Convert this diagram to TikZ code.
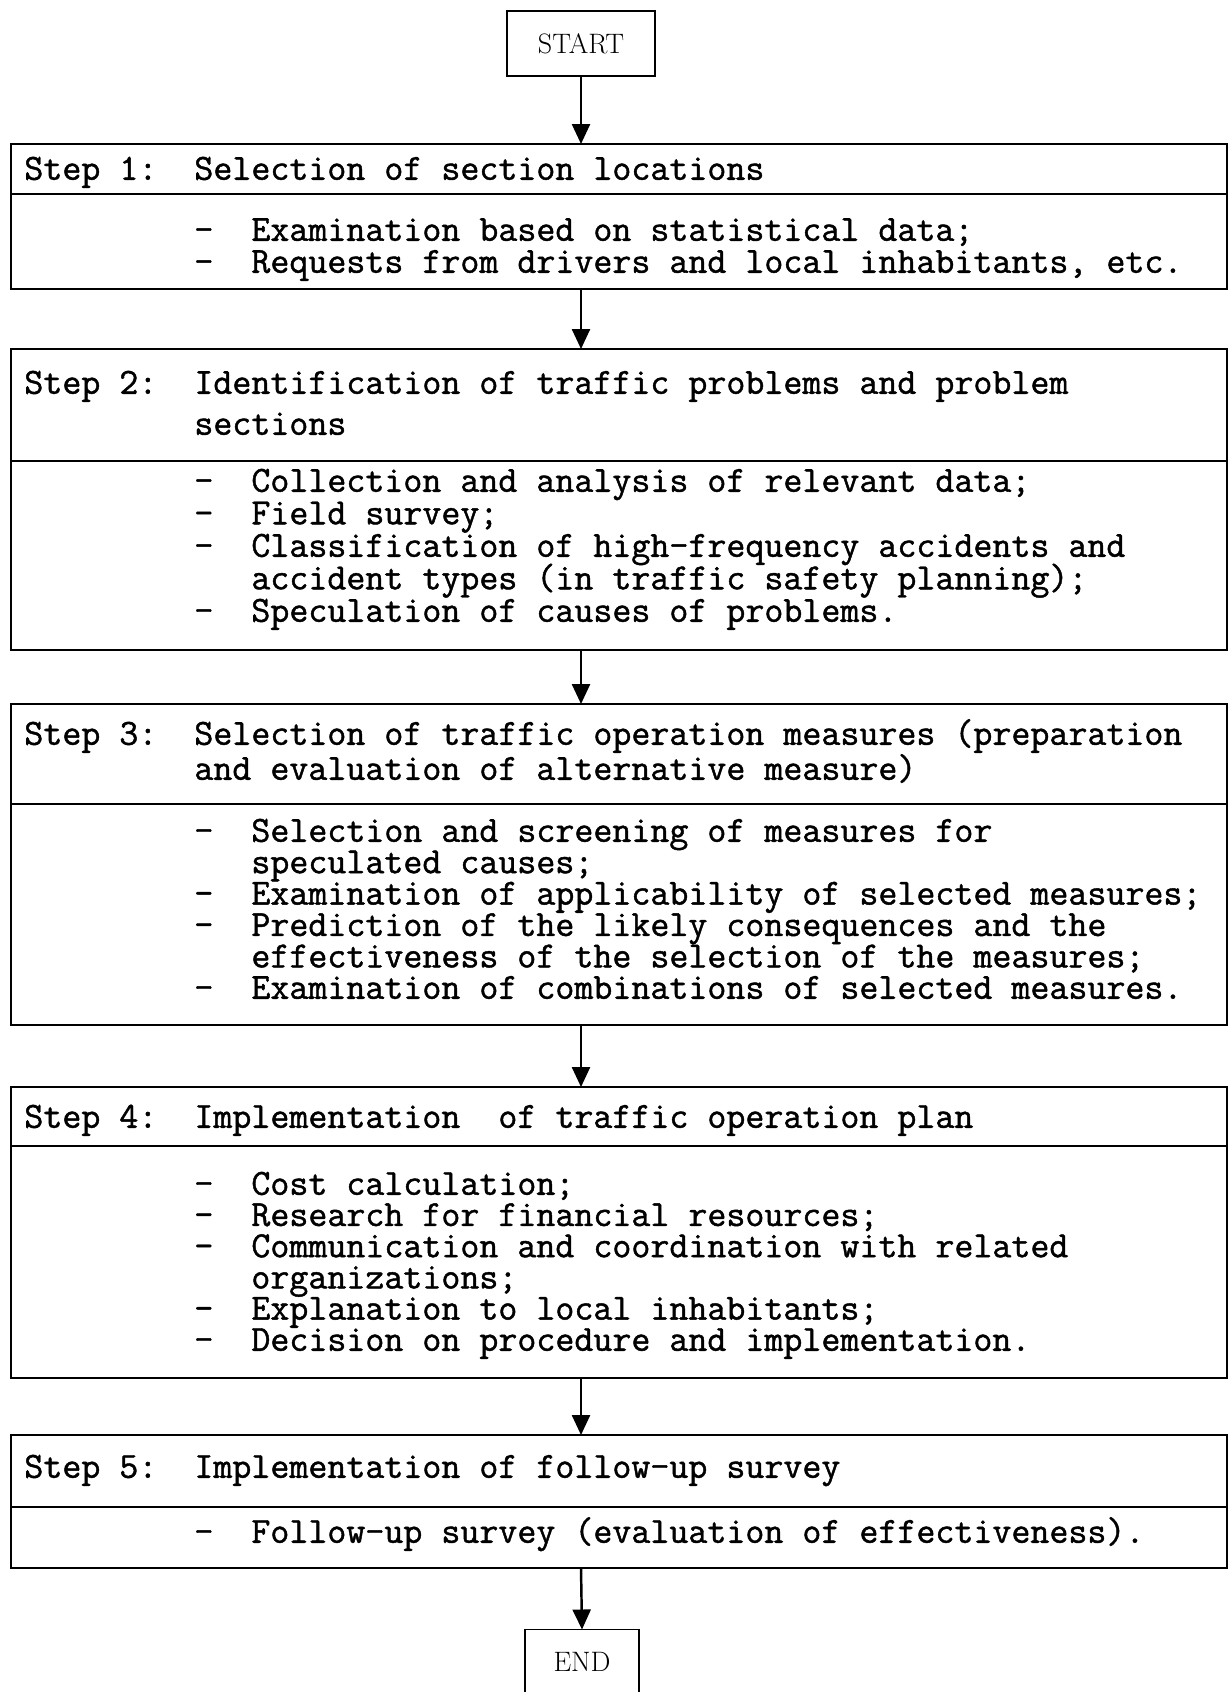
\documentclass[tikz,border=0pt]{standalone}
\usepackage{fontspec}
\usepackage{tikz}
\usetikzlibrary{arrows.meta}
\newfontfamily\typefont{Latin Modern Mono}[FakeBold=1.2]
\newcommand{\bul}{\makebox[3\fontcharwd\font`\-][l]{-}}
\newcommand{\ind}{\hspace*{3\fontcharwd\font`\-}}
\tikzset{
    stepbox/.style={draw, line width=1.1pt, rectangle, minimum width=24.32cm, outer sep=0pt, inner sep=0pt},
    endbox/.style={draw, line width=1.1pt, rectangle, outer sep=0pt, font=\fontsize{16pt}{18pt}\selectfont},
    line/.style={anchor=mid west, inner sep=0pt, font={\typefont\fontsize{21pt}{22pt}\selectfont}},
    arrow/.style={line width=1.4pt, -{Triangle[length=0.4cm, width=0.36cm]}}
}

\begin{document}
\begin{tikzpicture}[x=0.02cm, y=-0.02cm]
\useasboundingbox (0,0) rectangle (1229,1692);
\fill[white] (0,0) rectangle (1229,1692);
\coordinate (ax) at (581,0);
% start and end
\node[endbox, minimum width=2.96cm, minimum height=1.3cm] (start) at (581,43.5) {START};
\node[endbox, minimum width=2.28cm, minimum height=1.3cm] (end) at (582,1662) {END};
% step boxes
\node[stepbox, minimum height=2.9cm] (s1) at (619,216.5) {};
\node[stepbox, minimum height=6.02cm] (s2) at (619,499.5) {};
\node[stepbox, minimum height=6.42cm] (s3) at (619,864.5) {};
\node[stepbox, minimum height=5.82cm] (s4) at (619,1232.5) {};
\node[stepbox, minimum height=2.66cm] (s5) at (619,1501.5) {};
\draw[line width=1.1pt] (s1.west |- 0,194) -- (s1.east |- 0,194);
\draw[line width=1.1pt] (s2.west |- 0,461) -- (s2.east |- 0,461);
\draw[line width=1.1pt] (s3.west |- 0,804) -- (s3.east |- 0,804);
\draw[line width=1.1pt] (s4.west |- 0,1146) -- (s4.east |- 0,1146);
\draw[line width=1.1pt] (s5.west |- 0,1507) -- (s5.east |- 0,1507);
% arrows
\draw[arrow] (start.south) -- (ax |- s1.north);
\draw[arrow] (ax |- s1.south) -- (ax |- s2.north);
\draw[arrow] (ax |- s2.south) -- (ax |- s3.north);
\draw[arrow] (ax |- s3.south) -- (ax |- s4.north);
\draw[arrow] (ax |- s4.south) -- (ax |- s5.north);
\draw[arrow] (ax |- s5.south) -- (end.north);
% step labels
\foreach \n/\y in {1/176, 2/390, 3/741, 4/1124, 5/1474}
  \node[line] (lab\n) at (24,\y) {Step \n:};
% headings
\node[line] (h1) at (194,176) {Selection of section locations};
\node[line] (h2a) at (194,390) {Identification of traffic problems and problem};
\node[line] (h2b) at (194,431) {sections};
\node[line] (h3a) at (194,741) {Selection of traffic operation measures (preparation};
\node[line] (h3b) at (194,776) {and evaluation of alternative measure)};
\node[line] (h4) at (194,1124) {Implementation\ \ of traffic operation plan};
\node[line] (h5) at (194,1474) {Implementation of follow-up survey};
% items
\foreach \t [count=\i from 0] in {
    {\bul Examination based on statistical data;},
    {\bul Requests from drivers and local inhabitants, etc.}}
  \node[line] (b1-\i) at (194,{237+32*\i}) {\t};
\foreach \t [count=\i from 0] in {
    {\bul Collection and analysis of relevant data;},
    {\bul Field survey;},
    {\bul Classification of high-frequency accidents and},
    {\ind accident types (in traffic safety planning);},
    {\bul Speculation of causes of problems.}}
  \node[line] (b2-\i) at (194,{488+32.5*\i}) {\t};
\foreach \t [count=\i from 0] in {
    {\bul Selection and screening of measures for},
    {\ind speculated causes;},
    {\bul Examination of applicability of selected measures;},
    {\bul Prediction of the likely consequences and the},
    {\ind effectiveness of the selection of the measures;},
    {\bul Examination of combinations of selected measures.}}
  \node[line] (b3-\i) at (194,{838+31.4*\i}) {\t};
\foreach \t [count=\i from 0] in {
    {\bul Cost calculation;},
    {\bul Research for financial resources;},
    {\bul Communication and coordination with related},
    {\ind organizations;},
    {\bul Explanation to local inhabitants;},
    {\bul Decision on procedure and implementation.}}
  \node[line] (b4-\i) at (194,{1191+31.2*\i}) {\t};
\node[line] (b5-0) at (194,1539) {\bul Follow-up survey (evaluation of effectiveness).};
\end{tikzpicture}
\end{document}
